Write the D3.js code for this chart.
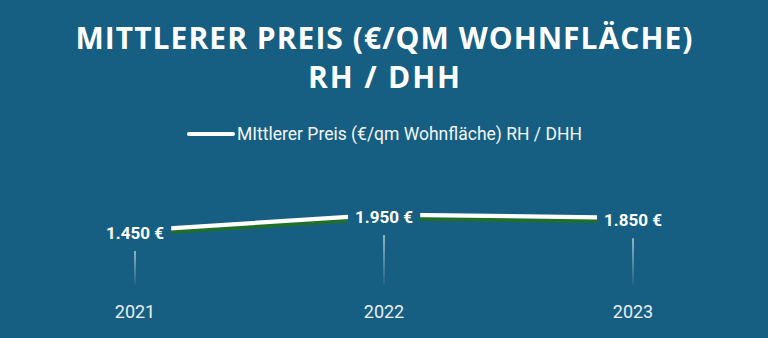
<!DOCTYPE html>
<html>
<head>
<meta charset="utf-8">
<script src="https://cdn.jsdelivr.net/npm/d3@7"></script>
<style>
  html, body { margin: 0; padding: 0; background: #175f82; }
  svg { display: block; }
</style>
</head>
<body>
<div id="chart"></div>
<script>
const width = 768;
const height = 338;
const bg = "#175f82";

const years = ["2021", "2022", "2023"];
const prices = [1450, 1950, 1850];
const priceLabels = ["1.450 €", "1.950 €", "1.850 €"];
const titleLines = ["MITTLERER PREIS (€/QM WOHNFLÄCHE)", "RH / DHH"];
const legendLabel = "MIttlerer Preis (€/qm Wohnfläche) RH / DHH";

const data = years.map((y, i) => ({year: y, value: prices[i], label: priceLabels[i]}));

const x = d3.scalePoint()
  .domain(years)
  .range([135, 633]);

const y = d3.scaleLinear()
  .domain([0, 2000])
  .range([277, 213]);

const svg = d3.select("#chart").append("svg")
  .attr("width", width)
  .attr("height", height);

svg.append("rect").attr("width", width).attr("height", height).attr("fill", bg);

const defs = svg.append("defs");
const grad = defs.append("linearGradient")
  .attr("id", "tickGrad")
  .attr("x1", "0%").attr("x2", "0%")
  .attr("y1", "0%").attr("y2", "100%");
grad.append("stop").attr("offset", "0%").style("stop-color", "#ffffff").style("stop-opacity", 0.75);
grad.append("stop").attr("offset", "100%").style("stop-color", "#ffffff").style("stop-opacity", 0.05);

// title
const titleWidths = [617, 152];
svg.append("g").selectAll("text")
  .data(titleLines)
  .join("text")
  .attr("x", width / 2)
  .attr("y", (d, i) => 49 + i * 39)
  .attr("text-anchor", "middle")
  .attr("textLength", (d, i) => titleWidths[i])
  .attr("lengthAdjust", "spacing")
  .attr("fill", "#ffffff")
  .style("font-family", "'Open Sans', sans-serif")
  .style("font-weight", 700)
  .style("font-size", "30px")
  .text(d => d);

// legend
const legend = svg.append("g");
legend.append("line")
  .attr("x1", 189).attr("x2", 233)
  .attr("y1", 134).attr("y2", 134)
  .attr("stroke", "#ffffff")
  .attr("stroke-width", 4)
  .attr("stroke-linecap", "round");
legend.append("text")
  .attr("x", 237)
  .attr("y", 139.5)
  .attr("fill", "#f2f5f7")
  .style("font-family", "Roboto, sans-serif")
  .style("font-size", "17.5px")
  .text(legendLabel);

// tick lines
svg.append("g").selectAll("rect")
  .data(data)
  .join("rect")
  .attr("x", d => x(d.year) - 0.75)
  .attr("y", d => y(d.value) + 17)
  .attr("width", 1.5)
  .attr("height", d => 285 - (y(d.value) + 17))
  .attr("fill", "url(#tickGrad)");

// year labels
svg.append("g").selectAll("text")
  .data(data)
  .join("text")
  .attr("x", d => x(d.year))
  .attr("y", 318)
  .attr("text-anchor", "middle")
  .attr("fill", "#e9eff3")
  .style("font-family", "Roboto, sans-serif")
  .style("font-size", "18px")
  .text(d => d.year);

const line = d3.line()
  .x(d => x(d.year))
  .y(d => y(d.value));

// shadow + line
svg.append("path")
  .datum(data)
  .attr("fill", "none")
  .attr("stroke", "#1f6e2b")
  .attr("stroke-width", 4.5)
  .attr("transform", "translate(0,3.5)")
  .attr("d", line);

svg.append("path")
  .datum(data)
  .attr("fill", "none")
  .attr("stroke", "#ffffff")
  .attr("stroke-width", 4.2)
  .attr("d", line);

// value labels with background knockout
const labels = svg.append("g").selectAll("g")
  .data(data)
  .join("g")
  .attr("transform", d => `translate(${x(d.year)},${y(d.value) + 2.5})`);

const labelText = labels.append("text")
  .attr("text-anchor", "middle")
  .attr("dy", "0.35em")
  .attr("fill", "#ffffff")
  .style("font-family", "Roboto, sans-serif")
  .style("font-weight", 700)
  .style("font-size", "17px")
  .text(d => d.label);

labelText.each(function() {
  const b = this.getBBox();
  d3.select(this.parentNode).insert("rect", "text")
    .attr("x", b.x - 7)
    .attr("y", b.y - 4)
    .attr("width", b.width + 14)
    .attr("height", b.height + 12)
    .attr("fill", bg);
});
</script>
</body>
</html>
